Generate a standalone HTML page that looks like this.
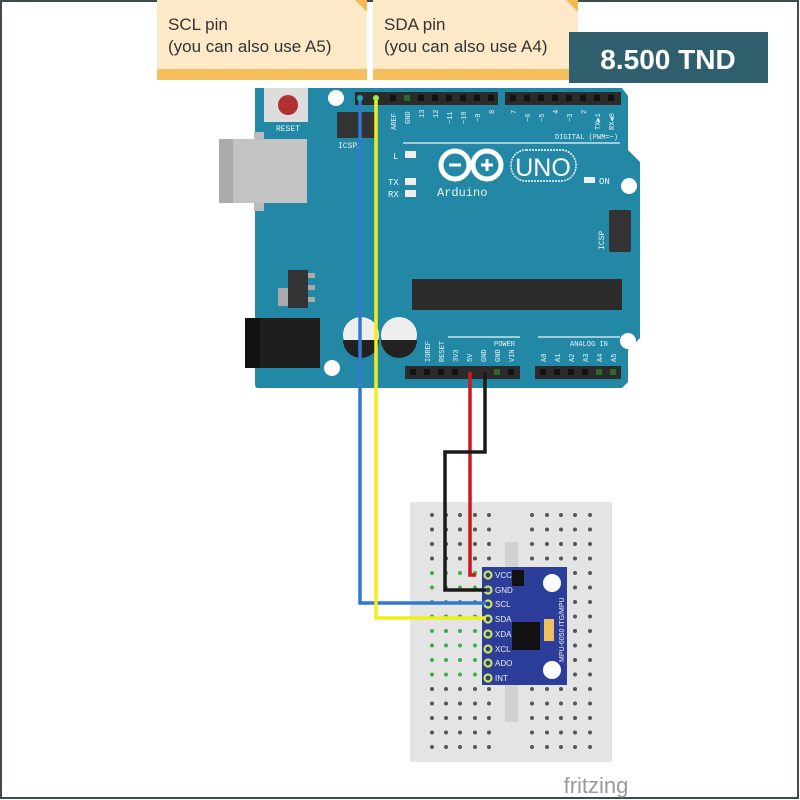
<!DOCTYPE html>
<html><head><meta charset="utf-8"><style>
html,body{margin:0;padding:0;background:#fff}
svg{display:block}
</style></head><body>
<svg width="800" height="800" viewBox="0 0 800 800" xmlns="http://www.w3.org/2000/svg" font-family="Liberation Sans, sans-serif">
<rect x="0" y="0" width="800" height="800" fill="#fff"/>
<rect x="1" y="1" width="797" height="797" fill="none" stroke="#3c4c4c" stroke-width="2"/>

<rect x="157" y="0" width="210" height="80" fill="#fde9c8"/>
<rect x="157" y="69" width="210" height="11" fill="#f5bf5e"/>
<polygon points="355,0 367,0 367,12" fill="#f2b955"/>
<text x="168" y="30" font-size="17" fill="#333">SCL pin</text>
<text x="168" y="52" font-size="17" fill="#333">(you can also use A5)</text>
<rect x="373" y="0" width="205" height="80" fill="#fde9c8"/>
<rect x="373" y="69" width="205" height="11" fill="#f5bf5e"/>
<polygon points="566,0 578,0 578,12" fill="#f2b955"/>
<text x="384" y="30" font-size="17" fill="#333">SDA pin</text>
<text x="384" y="52" font-size="17" fill="#333">(you can also use A4)</text>
<rect x="569" y="32" width="199" height="51" fill="#2f5f6d"/>
<text x="668" y="69" font-size="28" font-weight="bold" fill="#fff" text-anchor="middle">8.500 TND</text>

<path d="M255,88 L622,88 L628,96 L628,150 L640,162 L640,338 L628,350 L628,382 L622,388 L258,388 Q255,388 255,384 Z" fill="#2388a6"/>
<rect x="219" y="139" width="88" height="64" fill="#c3c3c3"/>
<rect x="219" y="139" width="14" height="64" fill="#aaa"/>
<rect x="254" y="132" width="10" height="8" fill="#bbb"/>
<rect x="254" y="203" width="10" height="8" fill="#bbb"/>
<rect x="264" y="88" width="44" height="34" fill="#ddd"/>
<circle cx="288" cy="105" r="10" fill="#b03030"/>
<text x="288" y="131" font-size="8" fill="#e8f4f8" text-anchor="middle" font-family="Liberation Mono, monospace">RESET</text>
<circle cx="336" cy="98" r="8" fill="#fff"/>
<circle cx="629" cy="186" r="8" fill="#fff"/>
<circle cx="628" cy="341" r="8" fill="#fff"/>
<circle cx="332" cy="368" r="8" fill="#fff"/>
<rect x="337" y="112" width="40" height="26" fill="#333"/>
<text x="338" y="148" font-size="8" fill="#e8f4f8" font-family="Liberation Mono, monospace">ICSP2</text>
<rect x="355" y="92" width="143" height="13" fill="#2b2b2b"/>
<rect x="505" y="92" width="116" height="13" fill="#2b2b2b"/>
<g fill="#111">
<rect x="390" y="95" width="6" height="6"/><rect x="404" y="95" width="6" height="6" fill="#2a6a2a"/><rect x="418" y="95" width="6" height="6"/><rect x="432" y="95" width="6" height="6"/><rect x="446" y="95" width="6" height="6"/><rect x="460" y="95" width="6" height="6"/><rect x="474" y="95" width="6" height="6"/><rect x="488" y="95" width="6" height="6"/>
<rect x="510" y="95" width="6" height="6"/><rect x="524" y="95" width="6" height="6"/><rect x="538" y="95" width="6" height="6"/><rect x="552" y="95" width="6" height="6"/><rect x="566" y="95" width="6" height="6"/><rect x="580" y="95" width="6" height="6"/><rect x="594" y="95" width="6" height="6"/><rect x="608" y="95" width="6" height="6"/>
</g>
<g font-size="7" fill="#e8f4f8" font-family="Liberation Mono, monospace">
<text transform="translate(396,130) rotate(-90)">AREF</text>
<text transform="translate(410,124) rotate(-90)">GND</text>
<text transform="translate(424,118) rotate(-90)">13</text>
<text transform="translate(438,118) rotate(-90)">12</text>
<text transform="translate(452,124) rotate(-90)">~11</text>
<text transform="translate(466,124) rotate(-90)">~10</text>
<text transform="translate(480,122) rotate(-90)">~9</text>
<text transform="translate(494,114) rotate(-90)">8</text>
<text transform="translate(516,114) rotate(-90)">7</text>
<text transform="translate(530,122) rotate(-90)">~6</text>
<text transform="translate(544,122) rotate(-90)">~5</text>
<text transform="translate(558,114) rotate(-90)">4</text>
<text transform="translate(572,122) rotate(-90)">~3</text>
<text transform="translate(586,114) rotate(-90)">2</text>
<text transform="translate(600,130) rotate(-90)">TX▶1</text>
<text transform="translate(614,130) rotate(-90)">RX◀0</text>
<text x="555" y="139">DIGITAL (PWM=~)</text>
<text transform="translate(430,362) rotate(-90)">IOREF</text>
<text transform="translate(444,362) rotate(-90)">RESET</text>
<text transform="translate(458,362) rotate(-90)">3V3</text>
<text transform="translate(472,362) rotate(-90)">5V</text>
<text transform="translate(486,362) rotate(-90)">GND</text>
<text transform="translate(500,362) rotate(-90)">GND</text>
<text transform="translate(514,362) rotate(-90)">VIN</text>
<text transform="translate(546,362) rotate(-90)">A0</text>
<text transform="translate(560,362) rotate(-90)">A1</text>
<text transform="translate(574,362) rotate(-90)">A2</text>
<text transform="translate(588,362) rotate(-90)">A3</text>
<text transform="translate(602,362) rotate(-90)">A4</text>
<text transform="translate(616,362) rotate(-90)">A5</text>
</g>
<line x1="403" y1="143" x2="620" y2="143" stroke="#e8f4f8" stroke-width="1.2"/>
<text x="393" y="159" font-size="9" fill="#e8f4f8" font-family="Liberation Mono, monospace">L</text>
<rect x="405" y="151" width="11" height="7" fill="#eee"/>
<text x="388" y="185" font-size="9" fill="#e8f4f8" font-family="Liberation Mono, monospace">TX</text>
<rect x="405" y="178" width="11" height="7" fill="#eee"/>
<text x="388" y="197" font-size="9" fill="#e8f4f8" font-family="Liberation Mono, monospace">RX</text>
<rect x="405" y="190" width="11" height="7" fill="#eee"/>
<rect x="584" y="177" width="11" height="6" fill="#eee"/>
<text x="599" y="184" font-size="9" fill="#e8f4f8" font-family="Liberation Mono, monospace">ON</text>
<circle cx="455" cy="165" r="14" fill="none" stroke="#fff" stroke-width="5"/>
<circle cx="487" cy="165" r="14" fill="none" stroke="#fff" stroke-width="5"/>
<rect x="449" y="163.5" width="12" height="3" fill="#fff"/>
<rect x="481" y="163.5" width="12" height="3" fill="#fff"/>
<rect x="485.5" y="159" width="3" height="12" fill="#fff"/>
<rect x="511" y="150" width="65" height="31" rx="15" fill="none" stroke="#fff" stroke-width="1.5" stroke-dasharray="2,1"/>
<text x="543" y="176" font-size="25" fill="#fff" text-anchor="middle">UNO</text>
<text x="437" y="196" font-size="12" fill="#e8f4f8" font-family="Liberation Mono, monospace">Arduino</text>
<rect x="609" y="210" width="22" height="42" fill="#333" rx="2"/>
<text x="604" y="250" font-size="8" fill="#e8f4f8" transform="rotate(-90 604 250)" font-family="Liberation Mono, monospace">ICSP</text>
<rect x="278" y="288" width="12" height="18" fill="#aaa"/>
<rect x="288" y="270" width="20" height="38" fill="#333"/>
<rect x="308" y="273" width="7" height="5" fill="#aaa"/><rect x="308" y="285" width="7" height="5" fill="#aaa"/><rect x="308" y="297" width="7" height="5" fill="#aaa"/>
<rect x="412" y="279" width="210" height="31" fill="#2b2b2b"/>
<rect x="245" y="318" width="75" height="50" fill="#1e1e1e"/>
<rect x="245" y="318" width="15" height="50" fill="#111"/>
<circle cx="361" cy="335" r="18" fill="#eee"/>
<path d="M343,340 A18,18 0 0 0 379,340 Z" fill="#222"/>
<circle cx="399" cy="335" r="18" fill="#eee"/>
<path d="M381,340 A18,18 0 0 0 417,340 Z" fill="#222"/>
<line x1="448" y1="337" x2="520" y2="337" stroke="#e8f4f8" stroke-width="1.2"/>
<line x1="538" y1="337" x2="620" y2="337" stroke="#e8f4f8" stroke-width="1.2"/>
<text x="494" y="346" font-size="7" fill="#e8f4f8" font-family="Liberation Mono, monospace">POWER</text>
<text x="570" y="346" font-size="7" fill="#e8f4f8" font-family="Liberation Mono, monospace">ANALOG IN</text>
<rect x="405" y="366" width="115" height="13" fill="#2b2b2b"/>
<rect x="535" y="366" width="86" height="13" fill="#2b2b2b"/>
<g fill="#111">
<rect x="410" y="369" width="6" height="6"/><rect x="424" y="369" width="6" height="6"/><rect x="438" y="369" width="6" height="6"/><rect x="452" y="369" width="6" height="6"/><rect x="494" y="369" width="6" height="6" fill="#2a6a2a"/><rect x="508" y="369" width="6" height="6"/>
<rect x="540" y="369" width="6" height="6"/><rect x="554" y="369" width="6" height="6"/><rect x="568" y="369" width="6" height="6"/><rect x="582" y="369" width="6" height="6"/><rect x="596" y="369" width="6" height="6" fill="#2a6a2a"/><rect x="610" y="369" width="6" height="6" fill="#2a6a2a"/>
</g>

<rect x="410" y="502" width="202" height="260" fill="#e4e4e4"/>
<rect x="505" y="542" width="13" height="180" fill="#d2d2d2"/>
<g id="holes"></g>

<rect x="482" y="567" width="85" height="118" fill="#2c3e9a"/>
<rect x="512" y="622" width="28" height="28" fill="#111"/>
<rect x="544" y="619" width="10" height="22" fill="#f1c05c"/>
<circle cx="552" cy="583" r="9" fill="#fff"/>
<circle cx="552" cy="670" r="9" fill="#fff"/>
<rect x="512" y="570" width="12" height="16" fill="#111"/>
<g fill="#eee" font-size="8">
<text x="495" y="578">VCC</text><text x="495" y="593">GND</text><text x="495" y="607">SCL</text><text x="495" y="622">SDA</text><text x="495" y="637">XDA</text><text x="495" y="652">XCL</text><text x="495" y="666">ADO</text><text x="495" y="681">INT</text>
</g>
<text x="564" y="662" font-size="7" fill="#eee" transform="rotate(-90 564 662)">MPU-6050 ITG/MPU</text>
<g fill="none" stroke="#cde84a" stroke-width="2.2">
<circle cx="488" cy="575" r="3.5"/><circle cx="488" cy="590" r="3.5"/><circle cx="488" cy="604" r="3.5"/><circle cx="488" cy="619" r="3.5"/><circle cx="488" cy="634" r="3.5"/><circle cx="488" cy="649" r="3.5"/><circle cx="488" cy="663" r="3.5"/><circle cx="488" cy="678" r="3.5"/>
</g>

<polyline points="470,372 470,575 476,575" fill="none" stroke="#cc1a1a" stroke-width="3.5"/>
<polyline points="485,372 485,452 445,452 445,590 486,590" fill="none" stroke="#1a1a1a" stroke-width="3.5"/>
<polyline points="360,98 360,603 486,603" fill="none" stroke="#3277d0" stroke-width="3.5"/>
<polyline points="376,98 376,618 486,618" fill="none" stroke="#f2ee1a" stroke-width="3.5"/>
<circle cx="360" cy="98" r="3" fill="#2aa"/>
<circle cx="376" cy="98" r="3" fill="#9e4"/>

<text x="596" y="793" font-size="22" fill="#9a9a9a" text-anchor="middle">fritzing</text>
</svg>
<script>
(function(){
var ns="http://www.w3.org/2000/svg";var g=document.getElementById("holes");
var L=[432,446,460,475,489],R=[532,547,561,575,590];
for(var i=0;i<17;i++){var y=515+i*14.5;
L.concat(R).forEach(function(x,j){var c=document.createElementNS(ns,"circle");c.setAttribute("cx",x);c.setAttribute("cy",y);c.setAttribute("r",2);
var green=(j<5&&y>=570&&y<=685);c.setAttribute("fill",green?"#3cb04a":"#555");g.appendChild(c);});}
})();
</script>
</body></html>
